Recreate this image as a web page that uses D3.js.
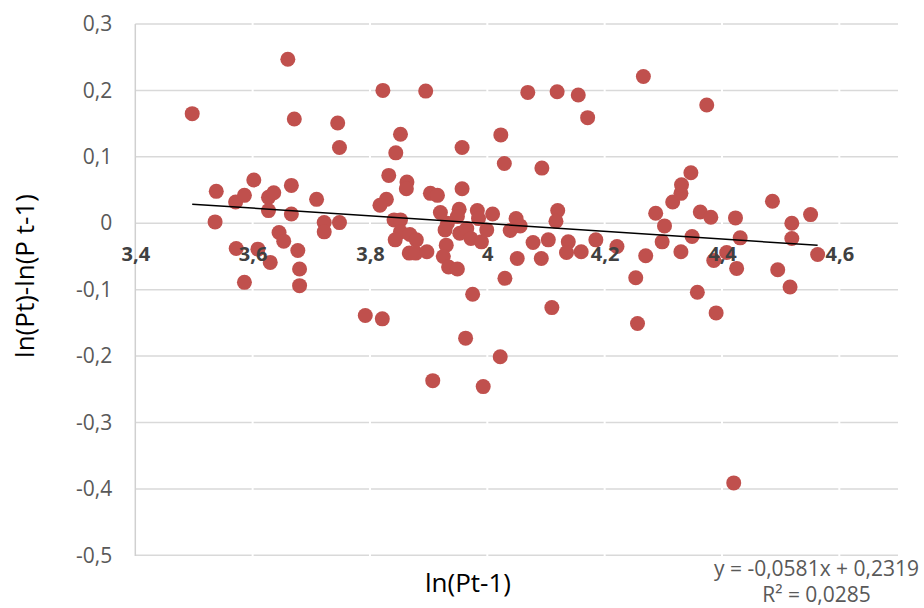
<!DOCTYPE html>
<html><head><meta charset="utf-8">
<script src="https://cdn.jsdelivr.net/npm/d3@7"></script>
<style>body{margin:0;background:#fff} svg{display:block} text{font-family:"Open Sans",sans-serif}</style>
</head><body>
<svg id="chart" width="924" height="608"></svg>
<script>
const xValues = [3.497,3.538,3.536,3.571,3.586,3.602,3.627,3.636,3.627,3.666,3.666,3.709,3.722,3.722,3.748,3.745,3.748,3.660,3.671,3.645,3.653,3.572,3.609,3.630,3.677,3.680,3.586,3.680,
 3.822,3.895,3.852,3.844,3.832,3.828,3.817,3.863,3.862,3.903,3.915,3.841,3.852,3.852,3.843,3.868,3.879,3.867,3.878,3.897,3.792,3.821,3.907,
 3.920,3.952,3.949,3.983,4.009,3.985,3.932,3.928,3.953,3.965,3.972,3.990,3.999,4.039,4.049,4.056,3.930,3.925,3.934,3.949,4.051,4.030,3.975,3.963,4.022,3.993,3.957,3.957,4.023,4.029,
 4.069,4.119,4.155,4.171,4.093,4.120,4.117,4.078,4.104,4.138,4.135,4.160,4.185,4.092,4.110,4.221,
 4.266,4.374,4.253,4.270,4.287,4.302,4.298,4.316,4.330,4.331,4.347,4.363,4.381,4.349,4.330,4.358,4.408,4.386,4.423,4.431,4.425,4.486,4.519,4.519,4.551,4.495,4.516,4.563,4.256,4.390,4.420];
const yValues = [0.165,0.048,0.002,0.032,0.042,0.065,0.039,0.046,0.019,0.057,0.014,0.036,0.001,-0.013,0.001,0.151,0.114,0.247,0.157,-0.014,-0.027,-0.038,-0.039,-0.059,-0.041,-0.069,-0.089,-0.094,
 0.200,0.199,0.134,0.106,0.072,0.036,0.027,0.062,0.052,0.045,0.042,0.005,0.005,-0.013,-0.025,-0.017,-0.025,-0.045,-0.045,-0.043,-0.139,-0.144,-0.237,
 0.016,0.021,0.010,0.019,0.014,0.007,0.000,-0.010,-0.015,-0.008,-0.023,-0.028,-0.010,-0.011,0.007,-0.004,-0.033,-0.050,-0.066,-0.069,-0.053,-0.083,-0.107,-0.173,-0.201,-0.246,0.052,0.114,0.133,0.090,
 0.197,0.198,0.193,0.159,0.083,0.019,0.003,-0.029,-0.025,-0.028,-0.044,-0.043,-0.025,-0.053,-0.127,-0.035,
 0.221,0.178,-0.082,-0.049,0.015,-0.004,-0.028,0.032,0.045,0.058,0.076,0.017,0.009,-0.020,-0.043,-0.104,-0.044,-0.056,0.008,-0.022,-0.068,0.033,0.000,-0.023,0.013,-0.070,-0.096,-0.047,-0.151,-0.135,-0.391];
const xTickValues = [3.4,3.6,3.8,4,4.2,4.4,4.6];
const yTickValues = [0.3,0.2,0.1,0,-0.1,-0.2,-0.3,-0.4,-0.5];
const xDomain = [3.4, 4.7];
const yDomain = [-0.5, 0.3];
const trendSlope = -0.0581, trendIntercept = 0.2319, trendR2 = 0.0285;
const xTitle = "ln(Pt-1)", yTitle = "ln(Pt)-ln(P t-1)";

const svg = d3.select("#chart");
svg.append("rect").attr("width",924).attr("height",608).attr("fill","#fff");
const x = d3.scaleLinear().domain(xDomain).range([135.3, 898]);
const y = d3.scaleLinear().domain(yDomain).range([555.3, 24]);
const loc = d3.formatLocale({decimal:",", thousands:" ", grouping:[3], currency:["",""], minus:"-"});
const fmt = loc.format(".2~f");
const fmt4 = loc.format(".4f");

// horizontal gridlines
svg.append("g").selectAll("line").data(yTickValues).join("line")
  .attr("x1", x(xDomain[0])).attr("x2", x(xDomain[1]))
  .attr("y1", d=>y(d)).attr("y2", d=>y(d))
  .attr("stroke","#D9D9D9").attr("stroke-width",1.5);
// white vertical gridlines
svg.append("g").selectAll("line").data(xTickValues.slice(1)).join("line")
  .attr("x1", d=>x(d)).attr("x2", d=>x(d))
  .attr("y1", y(yDomain[1])-2).attr("y2", y(yDomain[0])+2)
  .attr("stroke","#fff").attr("stroke-width",2);
// y axis line
svg.append("line").attr("x1",x(xDomain[0])).attr("x2",x(xDomain[0]))
  .attr("y1",y(yDomain[1])).attr("y2",y(yDomain[0])+0.75)
  .attr("stroke","#D0D0D0").attr("stroke-width",1.5);

// y axis labels
const yAxis = svg.append("g").attr("transform",`translate(${x(xDomain[0])},0)`)
  .call(d3.axisLeft(y).tickValues(yTickValues).tickFormat(fmt).tickSize(0).tickPadding(23));
yAxis.select(".domain").remove();
yAxis.selectAll("text").attr("font-size",21).attr("fill","#595959").attr("font-family","Open Sans");

// dots
svg.append("g").selectAll("circle").data(xValues.map((v,i)=>[v,yValues[i]])).join("circle")
  .attr("cx", d=>x(d[0])).attr("cy", d=>y(d[1])).attr("r",7.5).attr("fill","#C0504D");

// x axis labels (at y = 0)
const xAxis = svg.append("g").attr("transform",`translate(0,${y(0)})`)
  .call(d3.axisBottom(x).tickValues(xTickValues).tickFormat(fmt).tickSize(0).tickPadding(24));
xAxis.select(".domain").remove();
xAxis.selectAll("text").attr("font-size",20).attr("font-weight","bold").attr("fill","#404040").attr("font-family","Open Sans");

// trendline
const ext = d3.extent(xValues);
svg.append("path")
  .attr("d", d3.line()(ext.map(v=>[x(v), y(trendSlope*v+trendIntercept)])))
  .attr("stroke","#000").attr("stroke-width",1.5).attr("fill","none");

// trend equation
svg.append("text").attr("x",816.5).attr("y",576).attr("text-anchor","middle")
  .attr("font-size",21).attr("fill","#595959")
  .text(`y = ${fmt4(trendSlope)}x + ${fmt4(trendIntercept)}`);
svg.append("text").attr("x",816.5).attr("y",602).attr("text-anchor","middle")
  .attr("font-size",21).attr("fill","#595959")
  .text(`R² = ${fmt4(trendR2)}`);

// titles
svg.append("text").attr("x",468).attr("y",592).attr("text-anchor","middle")
  .attr("font-size",26).attr("fill","#000").text(xTitle);
svg.append("text").attr("transform","translate(34,276) rotate(-90)").attr("text-anchor","middle")
  .attr("font-size",26).attr("fill","#000").text(yTitle);
</script>
</body></html>
